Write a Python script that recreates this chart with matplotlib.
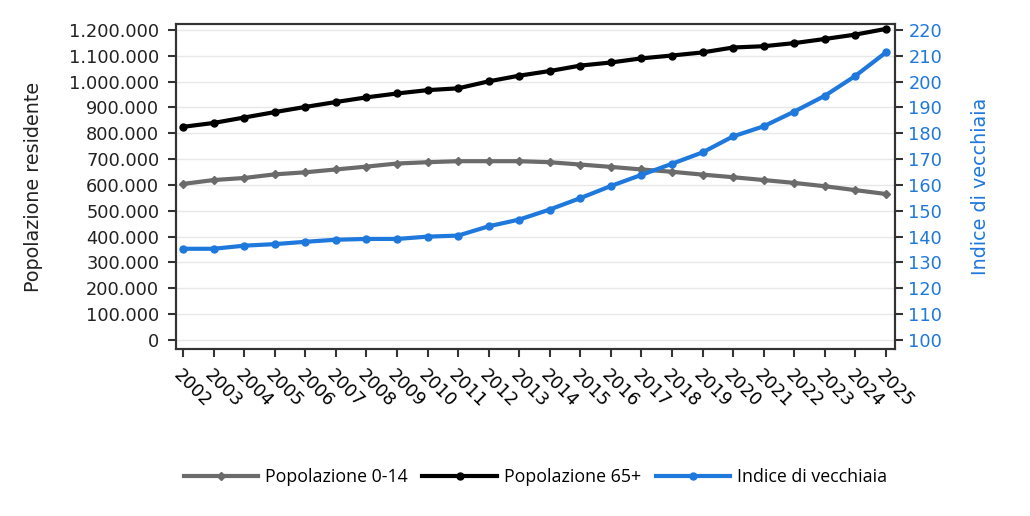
import numpy as np
import matplotlib
matplotlib.use("Agg")
import matplotlib.pyplot as plt
from matplotlib.ticker import FuncFormatter

# dati
anni = list(range(2002, 2026))
pop_0_14 = [604, 619, 627, 641, 649, 660, 671, 683, 688, 692, 692, 692, 688,
            679, 670, 660, 651, 640, 630, 619, 608, 595, 580, 565]
pop_65 = [825, 840, 861, 882, 902, 921, 939, 954, 967, 974, 1001, 1023, 1041,
          1062, 1074, 1090, 1101, 1113, 1132, 1137, 1149, 1165, 1182, 1204]
indice_vecchiaia = [135.3, 135.3, 136.5, 137.1, 138.0, 138.8, 139.1, 139.1, 140.0,
                    140.4, 144.0, 146.6, 150.5, 154.9, 159.6, 163.9, 168.2, 172.6,
                    178.8, 182.7, 188.4, 194.5, 202.2, 211.3]

pop_0_14 = np.array(pop_0_14) * 1000
pop_65 = np.array(pop_65) * 1000

grigio = "#6b6b6b"
blu = "#1f78dc"
spine_col = "#333333"

plt.rcParams['font.family'] = ['DejaVu Sans']

fig = plt.figure(figsize=(10.3, 5.16), dpi=100)
ax = fig.add_axes([0.1709, 0.3236, 0.6981, 0.6299])
ax2 = ax.twinx()

l1, = ax.plot(anni, pop_0_14, color=grigio, lw=3, marker="D", ms=4,
              label="Popolazione 0-14", zorder=3)
l2, = ax.plot(anni, pop_65, color="black", lw=3, marker="o", ms=5,
              label="Popolazione 65+", zorder=3)
l3, = ax2.plot(anni, indice_vecchiaia, color=blu, lw=3, marker="o", ms=5,
               label="Indice di vecchiaia", zorder=3)

ax.set_xlim(2001.77, 2025.3)
ax.set_ylim(-35000, 1223000)
ax2.set_ylim(96.5, 222.3)
ax.set_yticks(np.arange(0, 1200001, 100000))
ax2.set_yticks(np.arange(100, 221, 10))
ax.yaxis.set_major_formatter(FuncFormatter(lambda v, p: f"{int(v):,}".replace(",", ".")))

ax.grid(axis="y", color="#e8e8e8", lw=1)
ax.set_axisbelow(True)

ax.set_xticks(anni)
ax.set_xticklabels([str(a) for a in anni], rotation=-45, ha="left", va="top",
                   rotation_mode="anchor")

for a in (ax, ax2):
    for s in a.spines.values():
        s.set_color(spine_col)
        s.set_linewidth(1.5)
    a.tick_params(length=6, width=1.5, color=spine_col, labelsize=12.8)

ax.tick_params(axis="x", pad=6)
ax.tick_params(axis="y", labelcolor="#222222", pad=6)
ax2.tick_params(axis="y", labelcolor=blu)

ax.set_ylabel("Popolazione residente", fontsize=13.8, labelpad=19, color="#222222")
ax2.set_ylabel("Indice di vecchiaia", fontsize=13.8, labelpad=21, color=blu)

fig.legend(handles=[l1, l2, l3], loc="center", bbox_to_anchor=(0.52, 0.076),
           ncol=3, frameon=False, handlelength=4.2, handletextpad=0.4,
           columnspacing=0.8, prop={"family": "Open Sans", "size": 12.8})

fig.savefig("out.png", dpi=100)
